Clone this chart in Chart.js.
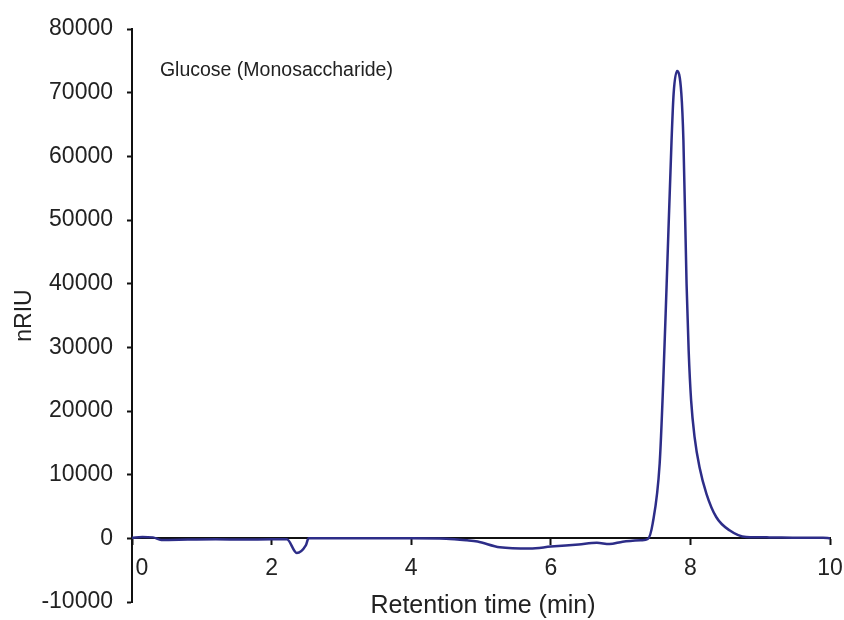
<!DOCTYPE html>
<html>
<head>
<meta charset="utf-8">
<script src="https://cdn.jsdelivr.net/npm/chart.js@4"></script>
<style>
  html, body { margin: 0; padding: 0; background: #fff; }
</style>
</head>
<body>
<canvas id="chart" width="844" height="620"></canvas>
<script>
// chromatogram trace (retention time in min, signal in nRIU)
const times = [0, 0.15, 0.3, 0.42, 0.8, 1.2, 1.6, 2.0, 2.22, 2.36, 2.49, 2.53, 3.0, 4.0, 4.5, 4.8, 4.95, 5.27, 5.7, 6.0, 6.4, 6.66, 6.84, 7.03, 7.3, 7.39,
  7.46, 7.56, 7.61, 7.66, 7.73, 7.76, 7.81, 7.87, 7.9, 7.945, 7.975, 8.01, 8.06, 8.13, 8.23, 8.37, 8.56, 8.8, 9.13, 9.5, 9.9, 10];
const signal = [100, 200, 150, -250, -200, -150, -200, -150, -150, -2300, -1100, 0, 0, 0, -50, -300, -500, -1400, -1600, -1300, -950, -700, -900, -520, -300, -100,
  2350, 11800, 24300, 40000, 62500, 69900, 73400, 69900, 62500, 40000, 29500, 21700, 15900, 11200, 7000, 3350, 1260, 200, 150, 100, 100, 0];

const xTicks = [0, 2, 4, 6, 8, 10];
const yMin = -10000, yMax = 80000, yStep = 10000;

const noteText = 'Glucose (Monosaccharide)';
const noteAt = [0.4, 73500];
const xTitle = 'Retention time (min)';
const yTitle = 'nRIU';

const ink = '#111';
const lineColor = '#2d2d88';
const tickFont = { family: '"Liberation Sans", sans-serif', size: 23 };

const points = times.map((t, i) => ({ x: t, y: signal[i] }));

// draws the note, the nudged "0" label and the x axis title
const extras = {
  id: 'extras',
  afterDraw(chart) {
    const { ctx, chartArea, scales: { x, y } } = chart;
    ctx.save();
    ctx.fillStyle = '#222';
    ctx.font = '19.5px "Liberation Sans", sans-serif';
    ctx.textAlign = 'left';
    ctx.textBaseline = 'middle';
    ctx.fillText(noteText, x.getPixelForValue(noteAt[0]), y.getPixelForValue(noteAt[1]));

    ctx.font = tickFont.size + 'px ' + tickFont.family;
    ctx.textAlign = 'center';
    ctx.fillText(String(xTicks[0]), x.getPixelForValue(xTicks[0]) + 10, y.getPixelForValue(0) + 30);

    ctx.font = '25px "Liberation Sans", sans-serif';
    ctx.fillText(xTitle, (chartArea.left + chartArea.right) / 2 + 2, 606);
    ctx.restore();
  }
};

new Chart(document.getElementById('chart'), {
  type: 'line',
  data: {
    datasets: [{
      data: points,
      borderColor: lineColor,
      borderWidth: 2.5,
      pointRadius: 0,
      fill: false,
      cubicInterpolationMode: 'monotone'
    }]
  },
  options: {
    responsive: false,
    animation: false,
    layout: { padding: { top: 29, right: 14, bottom: 18, left: 0 } },
    plugins: { legend: { display: false }, tooltip: { enabled: false } },
    scales: {
      x: {
        type: 'linear',
        min: 0,
        max: 10,
        position: { y: 0 },
        afterBuildTicks: s => { s.ticks = xTicks.map(v => ({ value: v })); },
        afterFit: s => { s.paddingLeft = 0; s.paddingRight = 0; },
        ticks: {
          font: tickFont,
          color: '#222',
          maxRotation: 0,
          padding: 11,
          callback: v => (v === xTicks[0] ? '' : String(v))
        },
        grid: { display: true, drawOnChartArea: false, drawTicks: true, tickLength: 6, tickColor: ink, tickWidth: 2 },
        border: { display: true, color: ink, width: 2 }
      },
      y: {
        min: yMin,
        max: yMax,
        afterFit: s => { s.width = 132; s.paddingTop = 12; s.paddingBottom = 12; },
        ticks: {
          stepSize: yStep,
          font: tickFont,
          color: '#222',
          padding: 14,
          callback: v => String(v)
        },
        grid: { display: true, drawOnChartArea: false, drawTicks: true, tickLength: 5, tickColor: ink, tickWidth: 2 },
        border: { display: true, color: ink, width: 2 },
        title: {
          display: true,
          text: yTitle,
          color: '#222',
          font: { family: '"Liberation Sans", sans-serif', size: 23 },
          padding: { top: 11, bottom: 0 }
        }
      }
    }
  },
  plugins: [extras]
});
</script>
</body>
</html>
